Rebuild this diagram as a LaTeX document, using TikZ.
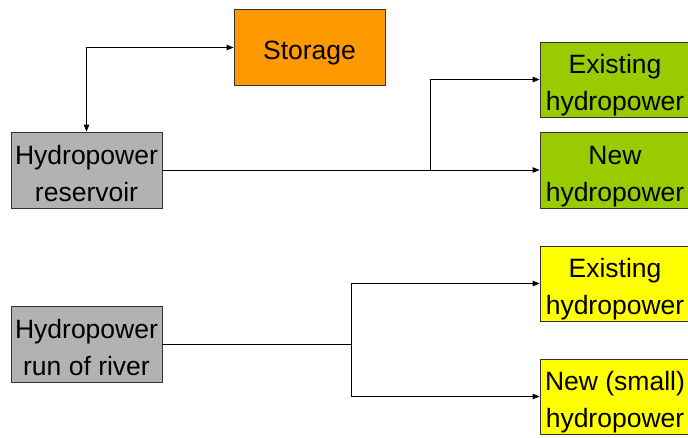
\documentclass[tikz,border=0pt]{standalone}
\usepackage{fontspec}
\setmainfont{Liberation Sans}
\usetikzlibrary{arrows.meta}
\definecolor{cOrange}{HTML}{FF9900}
\definecolor{cGray}{HTML}{B2B2B2}
\definecolor{cGreen}{HTML}{99CC00}
\definecolor{cYellow}{HTML}{FFFF00}
\begin{document}
\begin{tikzpicture}[x=1pt,y=-1pt,
  boxnode/.style={draw=black!80, line width=0.8pt, minimum height=76pt, inner sep=0pt,
    align=center, text height=62pt, text depth=0pt, font=\fontsize{26.5}{37}\selectfont},
  onebox/.style={boxnode, text height=24pt},
  conn/.style={line width=0.8pt, draw=black},
  tip/.style={-{Triangle[length=7pt,width=5.5pt]}}]
\useasboundingbox (0,0) rectangle (688,437);
\node[onebox, fill=cOrange, minimum width=151pt] (sto) at (309.5,47.5) {Storage};
\node[boxnode, fill=cGray, minimum width=151pt] (res) at (86.5,170) {Hydropower\\reservoir};
\node[boxnode, fill=cGreen, minimum width=150pt, minimum height=75pt] (exg) at (615,79.5) {Existing\\hydropower};
\node[boxnode, fill=cGreen, minimum width=150pt] (newg) at (615,170) {New\\hydropower};
\node[boxnode, fill=cGray, minimum width=151pt] (ror) at (86.5,344) {Hydropower\\run of river};
\node[boxnode, fill=cYellow, minimum width=150pt, minimum height=75pt] (exy) at (615,283.5) {Existing\\hydropower};
\node[boxnode, fill=cYellow, minimum width=150pt, minimum height=75pt] (newy) at (615,396.5) {New (small)\\hydropower};
\coordinate (j1) at (430,170);
\coordinate (j2) at (351,344);
\draw[conn, {Triangle[length=7pt,width=5.5pt]}-{Triangle[length=7pt,width=5.5pt]}] (res.north) |- (sto.west);
\draw[conn, tip] (res.east) -- (newg.west);
\draw[conn, tip] (j1) |- (exg.west);
\draw[conn] (ror.east) -- (j2);
\draw[conn, tip] (j2) |- (exy.west);
\draw[conn, tip] (j2) |- (newy.west);
\end{tikzpicture}
\end{document}
